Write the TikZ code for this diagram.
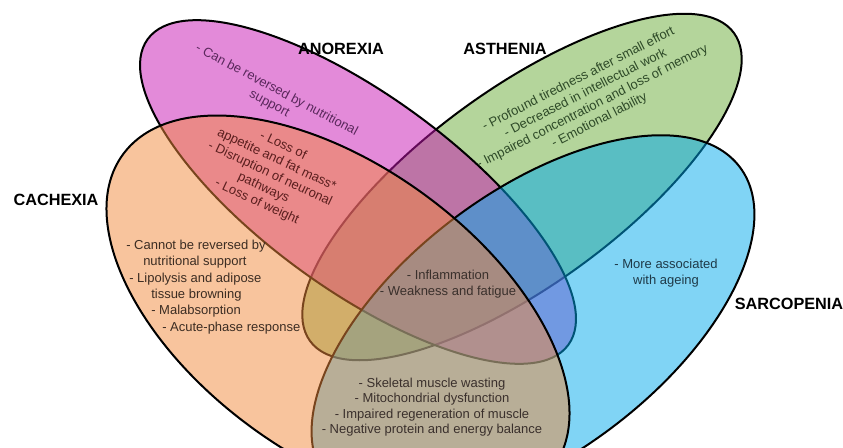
\documentclass[tikz,border=0pt]{standalone}
\usepackage{fontspec}
\setmainfont{Liberation Sans}
\definecolor{astheniagreen}{RGB}{105,171,55}
\definecolor{anorexiapink}{RGB}{199,21,179}
\definecolor{sarcoblue}{RGB}{1,169,235}
\definecolor{cachexiapeach}{RGB}{241,137,59}
\definecolor{anotext}{RGB}{90,40,92}
\definecolor{losstext}{RGB}{90,30,30}
\definecolor{asthtext}{RGB}{46,74,40}
\definecolor{cachtext}{RGB}{60,45,35}
\definecolor{midtext}{RGB}{58,48,44}
\definecolor{sarcotext}{RGB}{31,58,72}
\begin{document}
\begin{tikzpicture}[x=0.75pt,y=-0.75pt,
setshape/.style={draw=black,line width=1.5pt,fill opacity=0.5},
setname/.style={font=\fontsize{12.2}{14}\selectfont\bfseries},
settext/.style={font=\fontsize{9.75}{11.6}\selectfont,align=center,inner sep=0pt}]
\useasboundingbox (0,0) rectangle (843,447);
\clip (0,0) rectangle (843,447);
% the four sets
\draw [setshape,fill=astheniagreen,rotate around={36:(522,187)}] (522,187) ellipse (262 and 98);
\draw [setshape,fill=anorexiapink,rotate around={-36:(358,192)}] (358,192) ellipse (260 and 97);
\draw [setshape,fill=sarcoblue,rotate around={37:(533,323)}] (533,323) ellipse (259 and 131);
\draw [setshape,fill=cachexiapeach,rotate around={-36:(338,311)}] (338,311) ellipse (266 and 145);
% names
\node [setname] (anorexia) at (341,49) {ANOREXIA};
\node [setname] (asthenia) at (505,49) {ASTHENIA};
\node [setname] (cachexia) at (56,200) {CACHEXIA};
\node [setname] (sarcopenia) at (789,304) {SARCOPENIA};
% features
\node [settext,text=anotext,rotate=-28] (anofeat) at (273,97) {- Can be reversed by nutritional\\support};
\node [settext,text=asthtext,rotate=27] (asthfeat) at (589,100) {- Profound tiredness after small effort\\- Decreased in intellectual work\\- Impaired concentration and loss of memory\\- Emotional lability};
\node [settext,text=losstext,rotate=-25] (lossfeat) at (270,174) {- Loss of\\appetite and fat mass*\\- Disruption of neuronal\\pathways\\- Loss of weight};
\node [settext,text=cachtext,align=left,anchor=west,font=\fontsize{9.75}{12.3}\selectfont] (cachfeat) at (126,287) {- Cannot be reversed by\\\hspace*{12.75pt}nutritional support\\\hspace*{2.25pt}- Lipolysis and adipose\\\hspace*{18.75pt}tissue browning\\\hspace*{18.75pt}- Malabsorption\\\hspace*{27pt}- Acute-phase response};
\node [settext,text=sarcotext] (sarcofeat) at (666,273) {- More associated\\with ageing};
\node [settext,text=midtext] (allfeat) at (448,284) {- Inflammation\\- Weakness and fatigue};
\node [settext,text=midtext] (musclefeat) at (432,407) {- Skeletal muscle wasting\\- Mitochondrial dysfunction\\- Impaired regeneration of muscle\\- Negative protein and energy balance};
\end{tikzpicture}
\end{document}
